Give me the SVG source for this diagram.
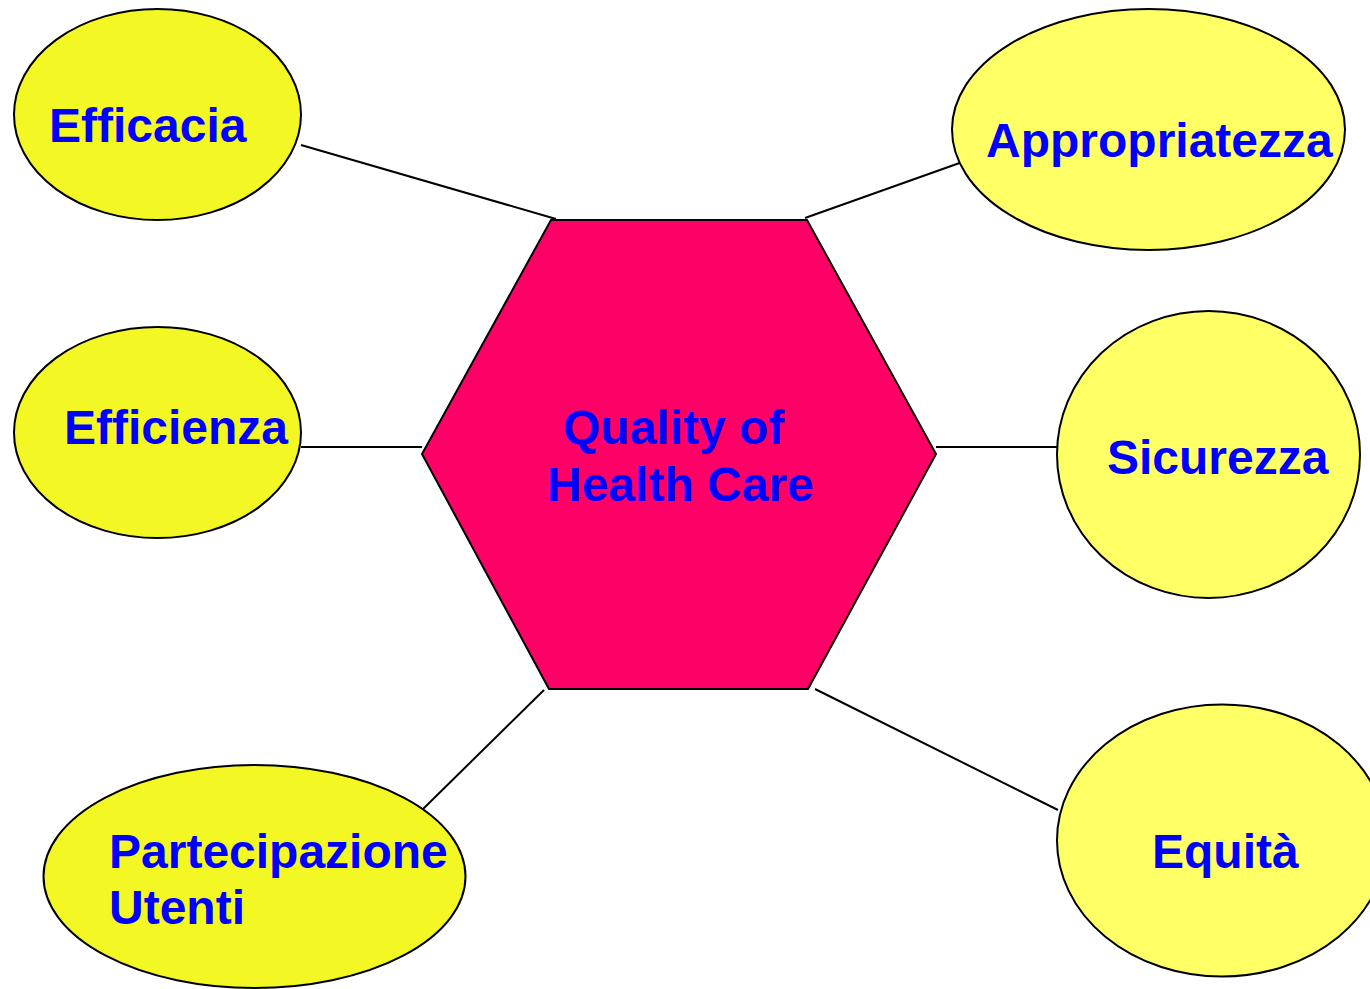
<svg xmlns="http://www.w3.org/2000/svg" width="1370" height="989" viewBox="0 0 1370 989">
<style>
.lbl{font-family:"Liberation Sans",Arial,sans-serif;font-weight:bold;font-size:48px;fill:#0000FF}
.eL{fill:#F3F724;stroke:#000;stroke-width:2}
.eR{fill:#FFFF66;stroke:#000;stroke-width:2}
.hex{fill:#FF0066;stroke:#000;stroke-width:2}
.conn line{stroke:#000;stroke-width:2}
</style>
<rect width="1370" height="989" fill="#fff"/>
<g class="conn" id="connectors">
<line x1="301" y1="145" x2="556" y2="219"/>
<line x1="805" y1="218" x2="968" y2="160"/>
<line x1="301" y1="447" x2="422" y2="447"/>
<line x1="936" y1="447" x2="1057" y2="447"/>
<line x1="544" y1="690" x2="423" y2="809"/>
<line x1="815" y1="689" x2="1058" y2="810"/>
</g>
<g id="center">
<polygon class="hex" points="551,220 807,220 936,454 808,689 549,689 422,454"/>
<text class="lbl" x="563" y="444">Quality of</text>
<text class="lbl" x="547" y="501">Health Care</text>
</g>
<g id="efficacia">
<ellipse class="eL" cx="157.5" cy="114.5" rx="143.5" ry="105.5"/>
<text class="lbl" x="49" y="142">Efficacia</text>
</g>
<g id="appropriatezza">
<ellipse class="eR" cx="1148.5" cy="129.5" rx="196.5" ry="120.5"/>
<text class="lbl" x="986" y="157">Appropriatezza</text>
</g>
<g id="efficienza">
<ellipse class="eL" cx="157.5" cy="432.5" rx="143.5" ry="105.5"/>
<text class="lbl" x="64" y="444">Efficienza</text>
</g>
<g id="sicurezza">
<ellipse class="eR" cx="1208.5" cy="454.5" rx="151.5" ry="143.5"/>
<text class="lbl" x="1107" y="474">Sicurezza</text>
</g>
<g id="partecipazione">
<ellipse class="eL" cx="254.5" cy="876.5" rx="211" ry="111.5"/>
<text class="lbl" x="109" y="868">Partecipazione</text>
<text class="lbl" x="109" y="924">Utenti</text>
</g>
<g id="equita">
<ellipse class="eR" cx="1222" cy="840.5" rx="165" ry="136"/>
<text class="lbl" x="1152" y="868">Equità</text>
</g>
</svg>
